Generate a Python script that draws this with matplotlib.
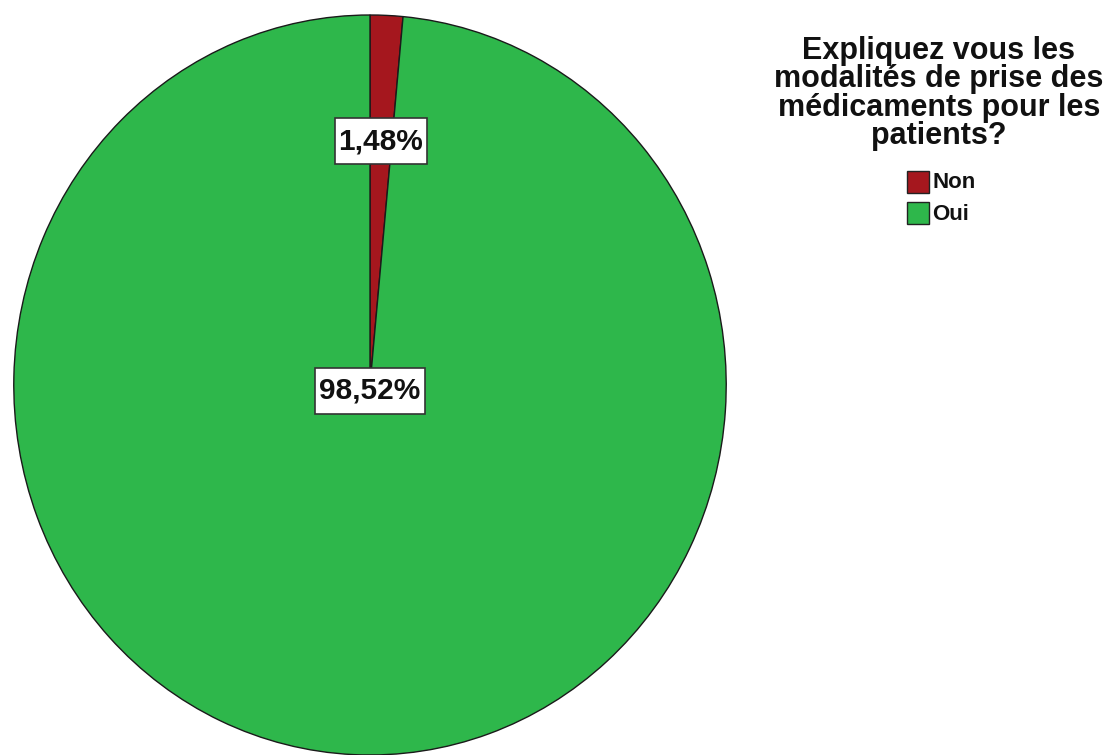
import numpy as np
import matplotlib
matplotlib.use('Agg')
from matplotlib import pyplot as plt
from matplotlib.patches import Rectangle

categories = ['Non', 'Oui']
values = [1.48, 98.52]
colors = ['#A5171E', '#2EB74B']
title = 'Expliquez vous les\nmodalités de prise des\nmédicaments pour les\npatients?'
label_dist = [0.66, 0.0]

plt.rcParams['font.family'] = ['Liberation Sans', 'DejaVu Sans']

W, H = 1113, 755
fig = plt.figure(figsize=(W / 100, H / 100), dpi=100)
# pie drawn slightly taller than wide, clipped at the bottom edge
ax = fig.add_axes([12 / W, 0.0, 716 / W, 740 / H])
wedges, _ = ax.pie(values, colors=colors, startangle=90, counterclock=False,
                   wedgeprops=dict(edgecolor='#1a1a1a', linewidth=1.0))
ax.set_aspect('auto')
ax.set_xlim(-1.005, 1.005)
ax.set_ylim(-1.0, 1.0)
ax.axis('off')

fig.canvas.draw()
renderer = fig.canvas.get_renderer()

for w, v, d in zip(wedges, values, label_dist):
    ang = np.deg2rad((w.theta1 + w.theta2) / 2)
    x, y = d * np.cos(ang), d * np.sin(ang) - (0.015 if d == 0 else 0)
    t = ax.text(x, y, f'{v:.2f}%'.replace('.', ','), ha='center', va='center',
                fontsize=21.5, fontweight='bold', color='#111111', zorder=5)
    # white label box, wider padding top/bottom than left/right
    bb = t.get_window_extent(renderer)
    px, py = 4, 9
    ax.add_patch(Rectangle((bb.x0 - px, bb.y0 - py), bb.width + 2 * px, bb.height + 2 * py,
                           transform=None, facecolor='white', edgecolor='#333333',
                           linewidth=1.2, zorder=4))

fig.text(939 / W, 1 - 36 / H, title, ha='center', va='top',
         fontsize=22, fontweight='bold', linespacing=0.93, color='#111111')

# legend entries
for i, (c, lab) in enumerate(zip(colors, categories)):
    top = 171 + i * 31
    fig.patches.append(Rectangle((907 / W, 1 - (top + 22) / H), 22 / W, 22 / H,
                                 transform=fig.transFigure, facecolor=c,
                                 edgecolor='#222222', linewidth=1.0))
    fig.text(932 / W, 1 - (top + 12) / H, lab, ha='left', va='center',
             fontsize=16, fontweight='bold', color='#111111')

fig.savefig('out.png', dpi=100)
